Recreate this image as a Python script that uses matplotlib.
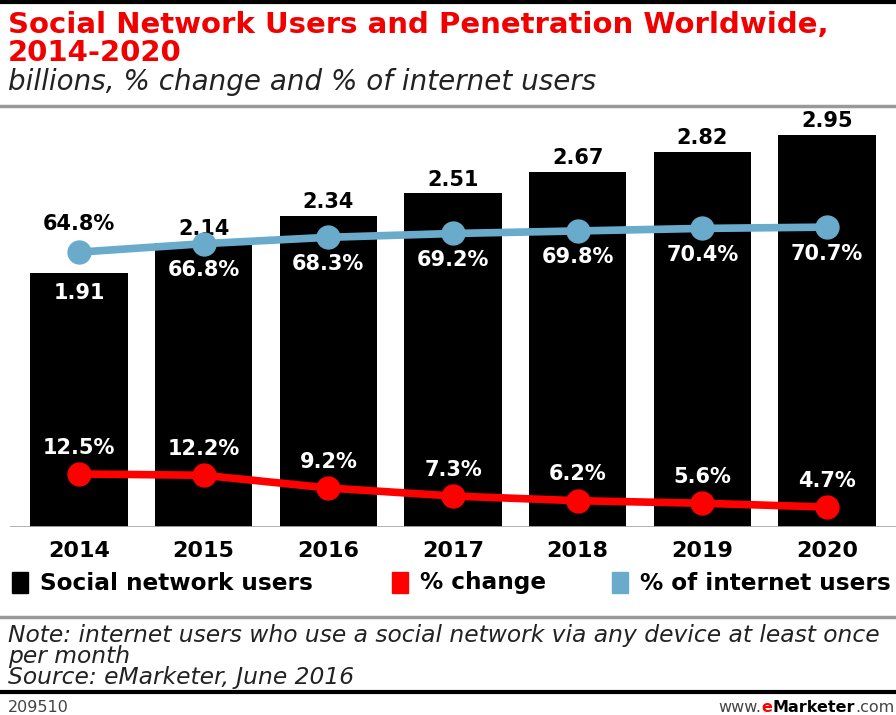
import matplotlib
matplotlib.use('Agg')
import matplotlib.pyplot as plt
from matplotlib.patches import Rectangle
from matplotlib.lines import Line2D

# Social network users worldwide (billions) and the two percentage series
years = ['2014', '2015', '2016', '2017', '2018', '2019', '2020']
users_bn = [1.91, 2.14, 2.34, 2.51, 2.67, 2.82, 2.95]
pct_change = [12.5, 12.2, 9.2, 7.3, 6.2, 5.6, 4.7]
pct_internet = [64.8, 66.8, 68.3, 69.2, 69.8, 70.4, 70.7]

legend_labels = ['Social network users', '% change', '% of internet users']

RED = '#ff0000'
BLUE = '#6aabcb'
TITLE_RED = '#f20000'
W, H = 896, 715

plt.rcParams['font.family'] = ['DejaVu Sans']

fig = plt.figure(figsize=(W / 100, H / 100), dpi=100)


def fx(px):
    return px / W


def fy(px):
    return 1 - px / H


# header
fig.add_artist(Line2D([0, 1], [fy(2), fy(2)], color='black', lw=3))
fig.text(fx(8), fy(33), 'Social Network Users and Penetration Worldwide,',
         color=TITLE_RED, fontsize=21, fontweight='bold', va='baseline')
fig.text(fx(8), fy(61), '2014-2020', color=TITLE_RED, fontsize=21,
         fontweight='bold', va='baseline')
fig.text(fx(8), fy(90), 'billions, % change and % of internet users',
         color='#222222', fontsize=20, style='italic', va='baseline')
fig.add_artist(Line2D([0, 1], [fy(106), fy(106)], color='#999999', lw=2.5))

# bars for users
ax = fig.add_axes([fx(10), fy(527), fx(886), (527 - 130) / H])
xs = list(range(len(years)))
ax.bar(xs, users_bn, width=0.78, color='black')
ax.set_xlim(-0.553, 6.553)
ax.set_ylim(0, 2.987)
for s in ax.spines.values():
    s.set_visible(False)
ax.axhline(0, color='#aaaaaa', lw=2, zorder=5)
ax.set_yticks([])
ax.set_xticks(xs)
ax.set_xticklabels(years, fontsize=16, fontweight='bold')
ax.tick_params(axis='x', length=0, pad=10)

for i, v in enumerate(users_bn):
    if i == 0:
        ax.annotate(f'{v:.2f}', (i, v), xytext=(0, -14), textcoords='offset points',
                    ha='center', va='center', color='white', fontsize=15,
                    fontweight='bold')
    else:
        ax.annotate(f'{v:.2f}', (i, v), xytext=(0, 10), textcoords='offset points',
                    ha='center', va='center', color='black', fontsize=15,
                    fontweight='bold')

# both percentage lines share one scale
ax2 = ax.twinx()
ax2.set_ylim(0, 93.6)
ax2.axis('off')
ax2.plot(xs, pct_internet, color=BLUE, lw=5.5, marker='o', ms=16.5)
ax2.plot(xs, pct_change, color=RED, lw=5.5, marker='o', ms=16.5)

for i, v in enumerate(pct_internet):
    if i == 0:
        off, col = 20, 'black'
    else:
        off, col = -19, 'white'
    ax2.annotate(f'{v:.1f}%', (i, v), xytext=(0, off), textcoords='offset points',
                 ha='center', va='center', color=col, fontsize=15, fontweight='bold')

for i, v in enumerate(pct_change):
    ax2.annotate(f'{v:.1f}%', (i, v), xytext=(0, 19), textcoords='offset points',
                 ha='center', va='center', color='white', fontsize=15,
                 fontweight='bold')

# legend row
legend_colors = ['black', RED, BLUE]
legend_x = [12, 392, 612]
for lx, col, lab in zip(legend_x, legend_colors, legend_labels):
    fig.add_artist(Rectangle((fx(lx), fy(593)), fx(16), 21 / H, color=col,
                             transform=fig.transFigure))
    fig.text(fx(lx + 28), fy(583), lab, fontsize=16.7, fontweight='bold',
             va='center')

# notes and footer
fig.add_artist(Line2D([0, 1], [fy(617), fy(617)], color='#999999', lw=2.5))
note = ('Note: internet users who use a social network via any device at least once\n'
        'per month\n'
        'Source: eMarketer, June 2016')
fig.text(fx(8), fy(624), note, fontsize=16.8, style='italic', color='#222222',
         va='top', linespacing=0.9)
fig.add_artist(Line2D([0, 1], [fy(692), fy(692)], color='black', lw=3))
fig.text(fx(8), fy(712), '209510', fontsize=11.5, color='#444444', va='baseline')

# www.eMarketer.com, assembled right to left
renderer = fig.canvas.get_renderer()
pieces = [('.com', '#444444', 'normal'), ('Marketer', 'black', 'bold'),
          ('e', RED, 'bold'), ('www.', '#444444', 'normal')]
right = 894
for txt, col, wt in pieces:
    t = fig.text(fx(right), fy(712), txt, fontsize=11.5, color=col, fontweight=wt,
                 ha='right', va='baseline')
    right -= t.get_window_extent(renderer).width

fig.savefig('out.png', dpi=100, facecolor='white')
